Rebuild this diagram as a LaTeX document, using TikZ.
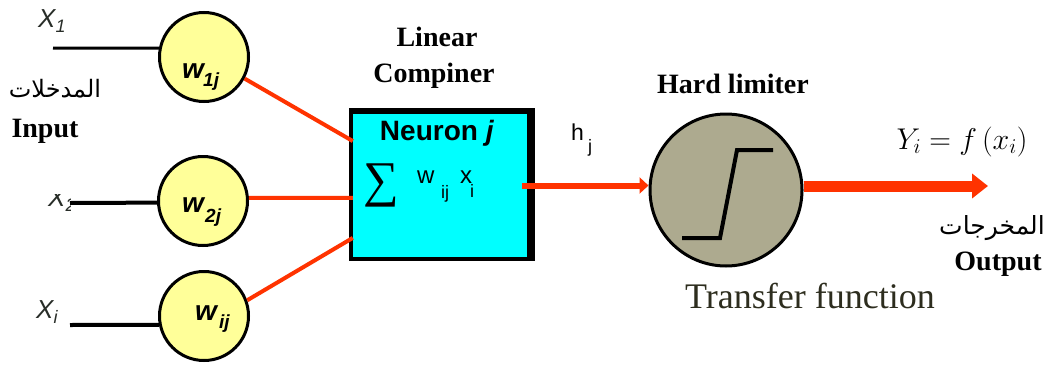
\RequirePackage{fix-cm}
\documentclass[tikz,border=0pt]{standalone}
\usepackage{fontspec}
\setmainfont{Liberation Serif}
\setsansfont{Liberation Sans}
\newfontfamily\arabicfont[Script=Arabic]{DejaVu Sans}
\TeXXeTstate=1
\usetikzlibrary{arrows.meta}
\definecolor{nred}{RGB}{255,51,0}
\definecolor{wyel}{RGB}{255,255,153}
\definecolor{hlgray}{RGB}{173,170,143}
\definecolor{tfcol}{RGB}{45,45,30}
\definecolor{lblcol}{RGB}{40,45,40}
\definecolor{boxcyan}{RGB}{0,255,255}
\newcommand{\fs}[1]{\fontsize{#1}{#1}\selectfont}
\begin{document}
\begin{tikzpicture}[x=1pt,y=-1pt,
  wnode/.style={circle,draw=black,line width=3pt,fill=wyel,minimum size=89pt,inner sep=0pt},
  hlnode/.style={circle,draw=black,line width=3pt,fill=hlgray,minimum size=152pt,inner sep=0pt},
  lab/.style={inner sep=0pt,anchor=base},
  labw/.style={inner sep=0pt,anchor=base west},
  inline/.style={draw=black,line width=4pt},
  redline/.style={draw=nred,line width=4pt},
  redarrow/.style={draw=nred,line width=6pt,-{Triangle[length=9pt,width=16pt]}},
  outarrow/.style={draw=nred,line width=11pt,-{Triangle[length=16pt,width=24pt]}},
  serifb/.style={font=\fs{28}\bfseries},
]
\useasboundingbox (0,0) rectangle (1051,367);

% weight circles
\node[wnode] (c1) at (204,57) {};
\node[wnode] (c2) at (203,201) {};
\node[wnode] (c3) at (204,316) {};

\node[labw] (w1) at (182,78) {\sffamily\bfseries\itshape\fs{28}w};
\node[labw] (s1) at (203,86) {\sffamily\bfseries\itshape\fs{19}1j};
\node[labw] (w2) at (182,212) {\sffamily\bfseries\itshape\fs{28}w};
\node[labw] (s2) at (205,222) {\sffamily\bfseries\itshape\fs{19}2j};
\node[labw] (w3) at (195,320) {\sffamily\bfseries\itshape\fs{28}w};
\node[labw] (s3) at (219,328) {\sffamily\bfseries\itshape\fs{19}ij};

% inputs
\coordinate (i1) at (53,48);
\coordinate (i2) at (70,203);
\coordinate (i3) at (70,325);
\draw[inline,line width=3pt] (i1) -- (c1.169);
\draw[inline] (i2) -- (c2.182);
\draw[inline] (i3) -- (c3.191);

\node[labw,text=lblcol] (x1) at (38,27) {\sffamily\itshape\fs{26}X\raisebox{-5pt}{\fs{18}1}};
\begin{scope}
\clip (0,194) rectangle (70,215);
\node[labw,text=lblcol] (x2) at (48,206) {\sffamily\itshape\fs{26}X\raisebox{-5pt}{\fs{18}2}};
\end{scope}
\node[labw,text=lblcol] (x3) at (36,318) {\sffamily\itshape\fs{26}X\raisebox{-5pt}{\fs{18}i}};

\node[lab] (ar1) at (55,97) {\arabicfont\fs{24}\beginR المدخلات\endR};
\node[lab,serifb] (inp) at (45,137) {Input};

% linear combiner box
\fill[black] (349,108) rectangle (535,261);
\node[fill=boxcyan,minimum width=174pt,minimum height=143pt,inner sep=0pt] (box) at (440,185.5) {};
\node[lab,serifb] (lin1) at (437,46) {Linear};
\node[lab,serifb] (lin2) at (434,82) {Compiner};
\node[lab] (neu) at (437,140) {\sffamily\bfseries\fs{28}Neuron \textit{j}};
\node[lab] (sig) at (381,196) {\fs{50}∑};
\node[labw] (bw) at (417,183) {\sffamily\fs{24}w};
\node[labw] (bij) at (441,198) {\sffamily\fs{18}ij};
\node[labw] (bx) at (460,183) {\sffamily\fs{24}x};
\node[labw] (bi) at (470,197) {\sffamily\fs{18}i};

\draw[redline] (c1.-28) -- (box.153);
\draw[redline] (c2.4) -- (box.188);
\draw[redline] (c3.20) -- (box.211);

% hard limiter
\node[hlnode] (hl) at (726,190) {};
\draw[black,line width=4pt] (682,238) -- (720,238) -- (737,150) -- (773,150);
\node[lab,serifb] (hlt) at (733,93) {Hard limiter};
\draw[redarrow] ([xshift=-5pt]box.east) -- (box.east -| hl.west);
\node[labw] (hh) at (571,140) {\sffamily\fs{23}h};
\node[labw] (hjj) at (588,152) {\sffamily\fs{18}j};

% output
\coordinate (out) at (988,186);
\draw[outarrow] (hl.east |- out) -- (out);
\node[lab] (yeq) at (962,149) {\fs{30}$Y_i = f\,(x_i)$};
\node[lab] (ar2) at (992,234) {\arabicfont\fs{25}\beginR المخرجات\endR};
\node[lab,serifb] (outp) at (998,270) {Output};
\node[lab,text=tfcol] (tf) at (810,308) {\fs{36}Transfer function};
\end{tikzpicture}
\end{document}
